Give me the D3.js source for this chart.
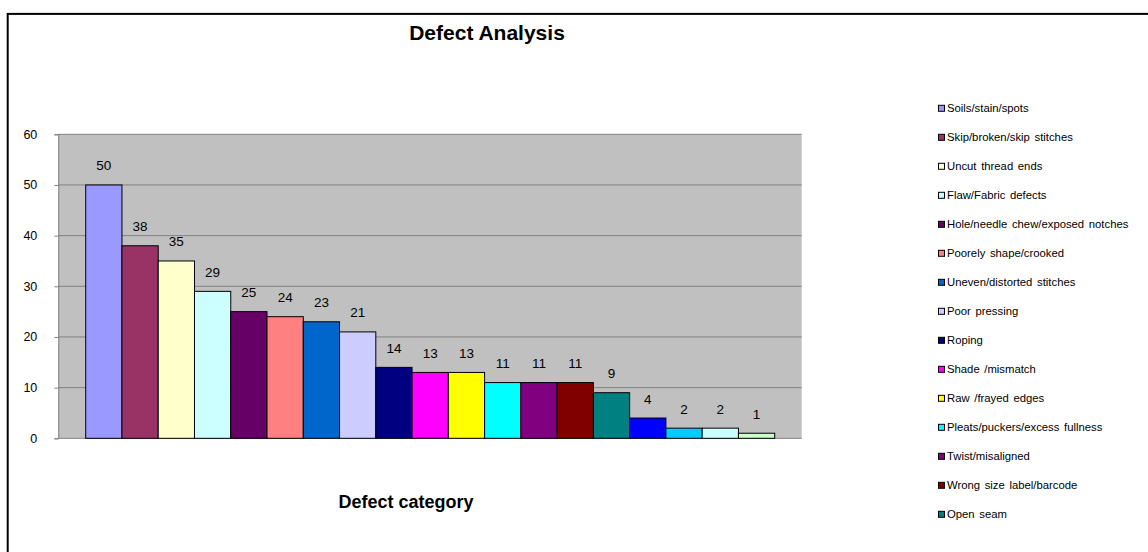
<!DOCTYPE html>
<html>
<head>
<meta charset="utf-8">
<script src="https://cdn.jsdelivr.net/npm/d3@7"></script>
<style>
  body { margin: 0; background: #fff; }
  svg { display: block; font-family: 'Liberation Sans', Arial, sans-serif; }
</style>
</head>
<body>
<div id="chart"></div>
<script>
// values in bar order, largest first
const values = [50, 38, 35, 29, 25, 24, 23, 21, 14, 13, 13, 11, 11, 11, 9, 4, 2, 2, 1]

// only the first 15 names are shown in the legend (the rest are cut off)
const categories = [
  'Soils/stain/spots',
  'Skip/broken/skip stitches',
  'Uncut thread ends',
  'Flaw/Fabric defects',
  'Hole/needle chew/exposed notches',
  'Poorely shape/crooked',
  'Uneven/distorted stitches',
  'Poor pressing',
  'Roping',
  'Shade /mismatch',
  'Raw /frayed edges',
  'Pleats/puckers/excess fullness',
  'Twist/misaligned',
  'Wrong size label/barcode',
  'Open seam'
]

const colors = [
  '#9999FF', '#993366', '#FFFFCC', '#CCFFFF', '#660066', '#FF8080',
  '#0066CC', '#CCCCFF', '#000080', '#FF00FF', '#FFFF00', '#00FFFF',
  '#800080', '#800000', '#008080', '#0000FF', '#00CCFF', '#CCFFFF',
  '#CCFFCC'
]

const yTicks = [0, 10, 20, 30, 40, 50, 60]

const width = 1148
const height = 552
const plot = { left: 58.3, right: 801.7, top: 134.3, bottom: 438.3 }

const svg = d3
  .select('#chart')
  .append('svg')
  .attr('width', width)
  .attr('height', height)

// chart border (runs off the right and bottom edges)
svg
  .append('rect')
  .attr('x', 7.7)
  .attr('y', 13.9)
  .attr('width', 1300)
  .attr('height', 700)
  .attr('fill', '#fff')
  .attr('stroke', '#000')
  .attr('stroke-width', 2)

svg
  .append('rect')
  .attr('x', plot.left)
  .attr('y', plot.top)
  .attr('width', plot.right - plot.left)
  .attr('height', plot.bottom - plot.top)
  .attr('fill', '#C0C0C0')

const y = d3.scaleLinear().domain([0, 60]).range([plot.bottom, plot.top])

const x = d3
  .scaleBand()
  .domain(values.map((d, i) => i))
  .range([85.7, 774.7])
  .padding(0)

// gridlines
svg
  .append('g')
  .selectAll('line')
  .data(yTicks)
  .enter()
  .append('line')
  .attr('x1', plot.left)
  .attr('x2', plot.right)
  .attr('y1', d => y(d))
  .attr('y2', d => y(d))
  .attr('stroke', '#808080')
  .attr('stroke-width', 1)

// y axis
const yAxis = svg
  .append('g')
  .attr('transform', `translate(${plot.left},0)`)
  .call(d3.axisLeft(y).tickValues(yTicks).tickSize(4).tickPadding(17))

yAxis.select('.domain').attr('stroke', '#808080')
yAxis.selectAll('.tick line').attr('stroke', '#808080')
yAxis
  .selectAll('.tick text')
  .style('font-family', "'Liberation Sans', Arial, sans-serif")
  .style('font-size', '12.5px')
  .attr('fill', '#000')

// bars
svg
  .append('g')
  .selectAll('rect')
  .data(values)
  .enter()
  .append('rect')
  .attr('x', (d, i) => x(i))
  .attr('y', d => y(d))
  .attr('width', x.bandwidth())
  .attr('height', d => y(0) - y(d))
  .attr('fill', (d, i) => colors[i])
  .attr('stroke', '#000')
  .attr('stroke-width', 1)

// value labels
svg
  .append('g')
  .selectAll('text')
  .data(values)
  .enter()
  .append('text')
  .attr('x', (d, i) => x(i) + x.bandwidth() / 2)
  .attr('y', d => y(d) - 14.5)
  .attr('text-anchor', 'middle')
  .style('font-size', '13.5px')
  .text(d => d)

// title
svg
  .append('text')
  .attr('x', 487)
  .attr('y', 39.5)
  .attr('text-anchor', 'middle')
  .style('font-size', '21px')
  .style('font-weight', 'bold')
  .text('Defect Analysis')

// x axis title
svg
  .append('text')
  .attr('x', 406)
  .attr('y', 508)
  .attr('text-anchor', 'middle')
  .style('font-size', '18px')
  .style('font-weight', 'bold')
  .text('Defect category')

// legend
const legend = svg
  .append('g')
  .selectAll('g')
  .data(categories)
  .enter()
  .append('g')
  .attr('transform', (d, i) => `translate(938,${108.3 + i * 29})`)

legend
  .append('rect')
  .attr('x', 0.5)
  .attr('y', -3)
  .attr('width', 6)
  .attr('height', 6)
  .attr('fill', (d, i) => colors[i])
  .attr('stroke', '#000')
  .attr('stroke-width', 1)

legend
  .append('text')
  .attr('x', 9)
  .attr('y', 4)
  .style('font-size', '11.3px')
  .style('word-spacing', '1.5px')
  .text(d => d)
</script>
</body>
</html>
